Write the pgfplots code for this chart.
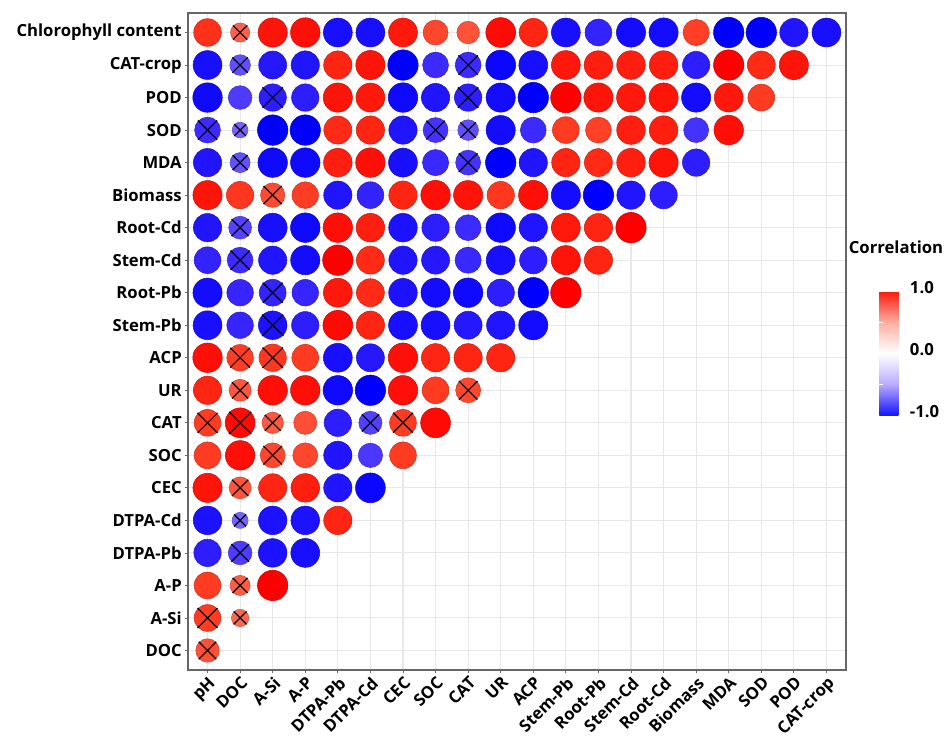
\documentclass[border=0pt]{standalone}
\usepackage{fontspec}
\setmainfont{Open Sans}
\usepackage{pgfplots}
\usepackage{pgfplotstable}
\pgfplotsset{compat=1.18}
\pgfplotstableread{
x y r s
0 19 0.91 1
1 19 0.63 0
2 19 0.96 1
3 19 0.97 1
4 19 -0.95 1
5 19 -0.95 1
6 19 0.95 1
7 19 0.82 1
8 19 0.74 1
9 19 0.98 1
10 19 0.93 1
11 19 -0.95 1
12 19 -0.88 1
13 19 -0.96 1
14 19 -0.96 1
15 19 0.86 1
16 19 -1.0 1
17 19 -1.0 1
18 19 -0.93 1
19 19 -0.95 1
0 18 -0.95 1
1 18 -0.68 0
2 18 -0.92 1
3 18 -0.93 1
4 18 0.93 1
5 18 0.96 1
6 18 -1.0 1
7 18 -0.85 1
8 18 -0.85 0
9 18 -0.98 1
10 18 -0.95 1
11 18 0.95 1
12 18 0.94 1
13 18 0.94 1
14 18 0.94 1
15 18 -0.9 1
16 18 1.0 1
17 18 0.92 1
18 18 0.96 1
0 17 -0.97 1
1 17 -0.78 1
2 17 -0.9 0
3 17 -0.9 1
4 17 0.96 1
5 17 0.95 1
6 17 -0.97 1
7 17 -0.93 1
8 17 -0.9 0
9 17 -0.96 1
10 17 -1.0 1
11 17 1.0 1
12 17 0.96 1
13 17 0.95 1
14 17 0.96 1
15 17 -0.96 1
16 17 0.95 1
17 17 0.88 1
0 16 -0.85 0
1 16 -0.52 0
2 16 -1.0 1
3 16 -1.0 1
4 16 0.92 1
5 16 0.93 1
6 16 -0.93 1
7 16 -0.82 0
8 16 -0.68 0
9 16 -0.96 1
10 16 -0.85 1
11 16 0.88 1
12 16 0.85 1
13 16 0.94 1
14 16 0.94 1
15 16 -0.82 1
16 16 0.97 1
0 15 -0.93 1
1 15 -0.66 0
2 15 -0.97 1
3 15 -0.97 1
4 15 0.94 1
5 15 0.97 1
6 15 -0.95 1
7 15 -0.86 1
8 15 -0.82 0
9 15 -1.0 1
10 15 -0.93 1
11 15 0.93 1
12 15 0.92 1
13 15 0.94 1
14 15 0.96 1
15 15 -0.9 1
0 14 0.96 1
1 14 0.9 1
2 14 0.8 0
3 14 0.87 1
4 14 -0.93 1
5 14 -0.88 1
6 14 0.93 1
7 14 0.97 1
8 14 0.96 1
9 14 0.9 1
10 14 0.97 1
11 14 -0.96 1
12 14 -1.0 1
13 14 -0.93 1
14 14 -0.9 1
0 13 -0.93 1
1 13 -0.75 0
2 13 -0.95 1
3 13 -0.97 1
4 13 0.97 1
5 13 0.94 1
6 13 -0.94 1
7 13 -0.9 1
8 13 -0.85 1
9 13 -0.97 1
10 13 -0.93 1
11 13 0.95 1
12 13 0.93 1
13 13 1.0 1
0 12 -0.88 1
1 12 -0.85 0
2 12 -0.93 1
3 12 -0.96 1
4 12 1.0 1
5 12 0.92 1
6 12 -0.93 1
7 12 -0.92 1
8 12 -0.86 1
9 12 -0.95 1
10 12 -0.9 1
11 12 0.96 1
12 12 0.93 1
0 11 -0.96 1
1 11 -0.87 1
2 11 -0.88 0
3 11 -0.87 1
4 11 0.95 1
5 11 0.92 1
6 11 -0.94 1
7 11 -0.96 1
8 11 -0.97 1
9 11 -0.9 1
10 11 -1.0 1
11 11 1.0 1
0 10 -0.95 1
1 10 -0.87 1
2 10 -0.94 0
3 10 -0.9 1
4 10 0.98 1
5 10 0.93 1
6 10 -0.95 1
7 10 -0.95 1
8 10 -0.92 1
9 10 -0.93 1
10 10 -0.96 1
0 9 0.97 1
1 9 0.87 0
2 9 0.9 0
3 9 0.88 1
4 9 -0.95 1
5 9 -0.92 1
6 9 0.97 1
7 9 0.93 1
8 9 0.93 1
9 9 0.93 1
0 8 0.93 1
1 8 0.72 0
2 8 0.97 1
3 8 0.97 1
4 8 -0.97 1
5 8 -1.0 1
6 8 0.97 1
7 8 0.88 1
8 8 0.82 0
0 7 0.88 0
1 7 0.98 0
2 7 0.7 0
3 7 0.76 1
4 7 -0.9 1
5 7 -0.76 0
6 7 0.88 0
7 7 0.98 1
0 6 0.88 1
1 6 0.97 1
2 6 0.82 0
3 6 0.82 1
4 6 -0.93 1
5 6 -0.8 1
6 6 0.88 1
0 5 0.96 1
1 5 0.72 0
2 5 0.93 1
3 5 0.94 1
4 5 -0.93 1
5 5 -0.98 1
0 4 -0.94 1
1 4 -0.53 0
2 4 -0.94 1
3 4 -0.94 1
4 4 0.93 1
0 3 -0.9 1
1 3 -0.78 0
2 3 -0.94 1
3 3 -0.95 1
0 2 0.88 1
1 2 0.66 0
2 2 1.0 1
0 1 0.88 0
1 1 0.57 0
0 0 0.77 0
}\corr
\pgfplotsset{
  colormap={circ}{rgb255(0pt)=(0,0,255) rgb255(5pt)=(25,15,255) rgb255(10pt)=(45,30,255)
    rgb255(20pt)=(75,55,255) rgb255(30pt)=(95,75,255) rgb255(40pt)=(110,88,255)
    rgb255(50pt)=(122,100,255) rgb255(100pt)=(255,255,255) rgb255(150pt)=(255,112,88)
    rgb255(160pt)=(255,100,75) rgb255(170pt)=(255,88,62) rgb255(180pt)=(255,75,50)
    rgb255(190pt)=(255,55,30) rgb255(195pt)=(255,25,12) rgb255(200pt)=(255,0,0)},
  colormap={cb}{rgb255(0pt)=(20,20,255) rgb255(50pt)=(185,170,255) rgb255(100pt)=(255,255,255)
    rgb255(150pt)=(255,175,160) rgb255(200pt)=(255,25,12)},
}
\newcommand{\lf}{\bfseries\fontsize{12.5}{14}\selectfont}
\begin{document}
\begin{tikzpicture}
\begin{axis}[
  at={(0,0)}, anchor=south west,
  scale only axis, width=493.5pt, height=492.75pt,
  xmin=-0.6, xmax=19.6, ymin=-0.6, ymax=19.6,
  xtick={0,...,19}, ytick={0,...,19},
  xticklabels={pH,DOC,A-Si,A-P,DTPA-Pb,DTPA-Cd,CEC,SOC,CAT,UR,ACP,Stem-Pb,Root-Pb,Stem-Cd,Root-Cd,Biomass,MDA,SOD,POD,CAT-crop},
  yticklabels={DOC,A-Si,A-P,DTPA-Pb,DTPA-Cd,CEC,SOC,CAT,UR,ACP,Stem-Pb,Root-Pb,Stem-Cd,Root-Cd,Biomass,MDA,SOD,POD,CAT-crop,Chlorophyll content},
  xticklabel style={rotate=45, anchor=north east, font=\lf, inner sep=1pt},
  yticklabel style={font=\lf, inner sep=2pt},
  tick pos=left, tick align=outside, major tick length=2.5pt,
  tick style={draw=black!60, line width=0.6pt},
  axis line style={draw=black!60, line width=1pt},
  grid=major, major grid style={draw=black!9, line width=0.8pt},
  colormap name=circ,
  point meta min=-1, point meta max=1,
  colorbar,
  colorbar style={
    colormap name=cb,
    at={(parent axis.south east)}, anchor=south west, xshift=16.5pt, yshift=191pt,
    scale only axis, width=18.75pt, height=93pt,
    ytick={-1,0,1}, yticklabels={-1.0,0.0,1.0},
    yticklabel style={font=\lf, inner sep=1pt, xshift=3pt, yshift=3pt},
    major tick length=0pt,
    minor ytick={-0.5,0.5}, minor tick length=3pt,
    tick style={draw=white, line width=0.8pt},
    axis line style={draw=none},
  },
]
\addplot[scatter, only marks, mark=*, scatter src=explicit,
  visualization depends on={11.4*abs(\thisrow{r}) \as \ms},
  scatter/@pre marker code/.append style={/tikz/mark size=\ms}]
  table[x=x, y=y, meta=r] {\corr};
\addplot[scatter, only marks, mark=x, scatter src=explicit,
  scatter/use mapped color={draw=black, fill=black},
  line width=0.9pt,
  restrict expr to domain={\thisrow{s}}{-0.5:0.5},
  visualization depends on={12*abs(\thisrow{r}) \as \cs},
  scatter/@pre marker code/.append style={/tikz/mark size=\cs}]
  table[x=x, y=y, meta=r] {\corr};
\end{axis}
\node[font=\lf] at (531pt,317pt) {Correlation};
\pgfresetboundingbox
\useasboundingbox (-141pt,-51pt) rectangle (573pt,502.5pt);
\end{tikzpicture}
\end{document}
